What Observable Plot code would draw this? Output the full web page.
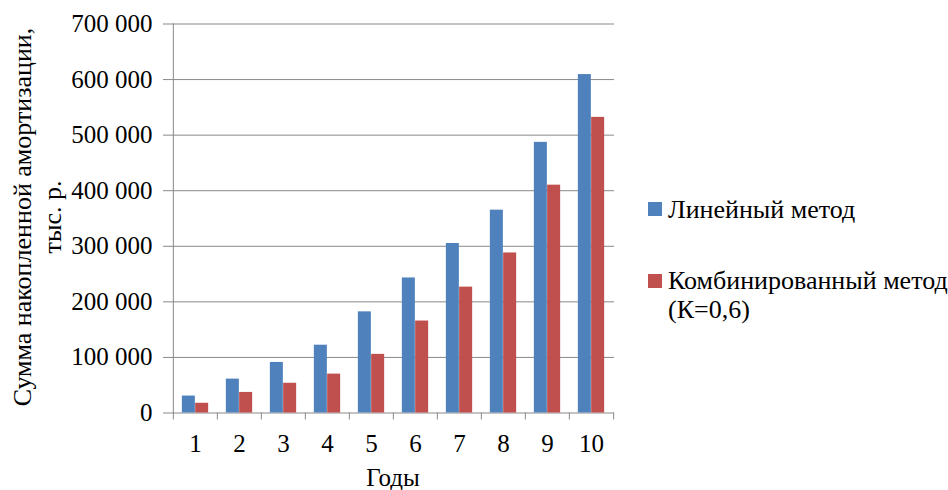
<!DOCTYPE html>
<html>
<head>
<meta charset="utf-8">
<script src="https://cdn.jsdelivr.net/npm/d3@7"></script>
<script src="https://cdn.jsdelivr.net/npm/@observablehq/plot@0.6"></script>
<style>
  html, body { margin: 0; padding: 0; background: #fff; }
  #chart { position: relative; width: 948px; height: 490px; font-family: "Liberation Serif", "Times New Roman", serif; color: #000; }
  #chart svg { position: absolute; left: 0; top: 0; font-family: "Liberation Serif", "Times New Roman", serif; }
  .legend-item { position: absolute; left: 648px; font-size: 26px; line-height: 28.5px; white-space: pre; }
  .legend-item .sw { position: absolute; left: 0; width: 14px; height: 14px; }
  .legend-item .lb { position: absolute; left: 20px; top: 0; }
</style>
</head>
<body>
<div id="chart"></div>
<script>
// ---- data ----
const years = [1, 2, 3, 4, 5, 6, 7, 8, 9, 10];
const linearMethod   = [30500, 61000, 91000, 122000, 182000, 243000, 305000, 365000, 487000, 609000];
const combinedMethod = [17500, 37000, 53500, 70000, 105500, 165500, 226500, 288000, 410000, 532000];
const yTicks = [0, 100000, 200000, 300000, 400000, 500000, 600000, 700000];
const seriesNames = ["Линейный метод", "Комбинированный метод\n(К=0,6)"];
const seriesColors = ["#4F81BD", "#C0504D"];
const xTitle = "Годы";
const yTitle = "Сумма накопленной амортизации,\nтыс. р.";

// ---- layout ----
const W = 948, H = 490;
const mL = 171, mR = 334, mT = 23.5, mB = 77.5;
const step = (W - mL - mR) / years.length;
const barW = 13.3;
const outer = (step - 2 * barW) / 2;
const gray = "#898989";
const fontFamily = "Liberation Serif, Times New Roman, serif";

const fmt = d3.formatLocale({decimal: ",", thousands: "\u00a0", grouping: [3], currency: ["", ""]}).format(",d");

const table = years.map((y, i) => ({year: y, linear: linearMethod[i], combined: combinedMethod[i]}));

const plot = Plot.plot({
  width: W,
  height: H,
  marginLeft: mL,
  marginRight: mR,
  marginTop: mT,
  marginBottom: mB,
  style: {fontFamily, fontSize: "25px", color: "#000", background: "transparent"},
  x: {type: "band", domain: years, padding: 0, tickSize: 0, tickPadding: 21.5, label: null},
  y: {domain: [0, yTicks[yTicks.length - 1]], ticks: yTicks, tickFormat: fmt, tickSize: 0, tickPadding: 19, label: null},
  marks: [
    Plot.ruleY(yTicks, {y: d => d, stroke: gray, strokeWidth: 1, insetLeft: -8}),
    Plot.ruleX(years.slice(0, 1), {x: d => d, dx: -step / 2, stroke: gray, insetBottom: -7}),
    Plot.ruleX(years.slice(1), {x: d => d, dx: -step / 2, y1: 0, y2: 0, stroke: gray, insetBottom: -7}),
    Plot.ruleX(years.slice(-1), {x: d => d, dx: step / 2, y1: 0, y2: 0, stroke: gray, insetBottom: -7}),
    Plot.barY(table, {x: "year", y: "linear", fill: seriesColors[0], insetLeft: outer, insetRight: step / 2}),
    Plot.barY(table, {x: "year", y: "combined", fill: seriesColors[1], insetLeft: step / 2, insetRight: outer}),
    Plot.text([xTitle], {text: d => d, frameAnchor: "bottom", textAnchor: "middle", dy: 65, lineAnchor: "middle", fontSize: 25}),
    Plot.text([yTitle], {text: d => d, frameAnchor: "left", textAnchor: "middle", rotate: -90, dx: -135, dy: -1.5, lineAnchor: "middle", lineHeight: 1.16, fontSize: 26})
  ]
});

const chart = document.getElementById("chart");
chart.appendChild(plot);

// legend
const legendTops = [195.5, 267];
seriesNames.forEach((name, i) => {
  const item = document.createElement("div");
  item.className = "legend-item";
  item.style.top = legendTops[i] + "px";
  const sw = document.createElement("div");
  sw.className = "sw";
  sw.style.background = seriesColors[i];
  sw.style.top = "6.5px";
  const lb = document.createElement("div");
  lb.className = "lb";
  lb.textContent = name;
  item.appendChild(sw);
  item.appendChild(lb);
  chart.appendChild(item);
});
</script>
</body>
</html>
